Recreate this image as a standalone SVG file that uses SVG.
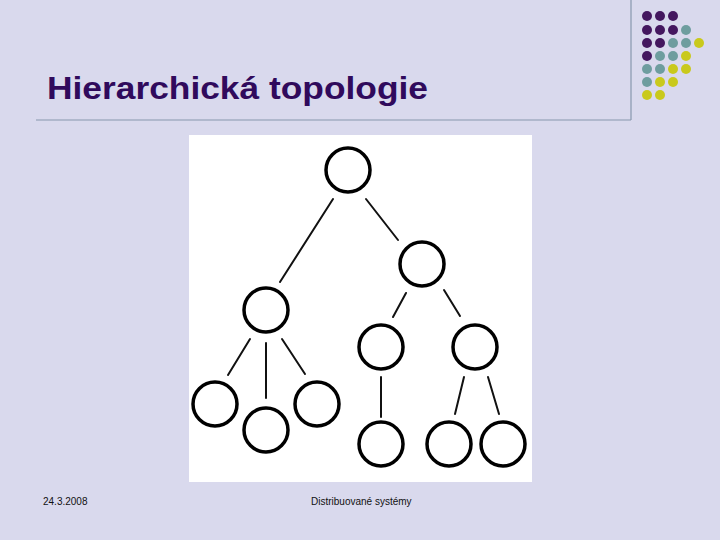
<svg xmlns="http://www.w3.org/2000/svg" width="720" height="540" viewBox="0 0 720 540">
<style>
.bg{fill:#d9d9ed}
.rule{stroke:#8797ad;stroke-width:1.2;fill:none}
.p{fill:#44175f}.t{fill:#6e9d9f}.y{fill:#c9c91c}
.node{fill:#ffffff;stroke:#000;stroke-width:3.5}
.edge{stroke:#111;stroke-width:2;stroke-linecap:round}
.title{font-family:"Liberation Sans",Arial,sans-serif;font-weight:bold;font-size:32px;fill:#300a5c}
.foot{font-family:"Liberation Sans",Arial,sans-serif;font-size:10px;fill:#111}
</style>
<rect class="bg" x="0" y="0" width="720" height="540"/>
<line class="rule" x1="631" y1="0" x2="631" y2="120"/>
<line class="rule" x1="36" y1="120" x2="631" y2="120"/>
<g id="dots">
<circle class="p" cx="647" cy="16" r="5"/><circle class="p" cx="660" cy="16" r="5"/><circle class="p" cx="673" cy="16" r="5"/>
<circle class="p" cx="647" cy="30" r="5"/><circle class="p" cx="660" cy="30" r="5"/><circle class="p" cx="673" cy="30" r="5"/><circle class="t" cx="686" cy="30" r="5"/>
<circle class="p" cx="647" cy="43" r="5"/><circle class="p" cx="660" cy="43" r="5"/><circle class="t" cx="673" cy="43" r="5"/><circle class="t" cx="686" cy="43" r="5"/><circle class="y" cx="699" cy="43" r="5"/>
<circle class="p" cx="647" cy="56" r="5"/><circle class="t" cx="660" cy="56" r="5"/><circle class="t" cx="673" cy="56" r="5"/><circle class="y" cx="686" cy="56" r="5"/>
<circle class="t" cx="647" cy="69" r="5"/><circle class="t" cx="660" cy="69" r="5"/><circle class="y" cx="673" cy="69" r="5"/><circle class="y" cx="686" cy="69" r="5"/>
<circle class="t" cx="647" cy="82" r="5"/><circle class="y" cx="660" cy="82" r="5"/><circle class="y" cx="673" cy="82" r="5"/>
<circle class="y" cx="647" cy="95" r="5"/><circle class="y" cx="660" cy="95" r="5"/>
</g>
<text class="title" x="47" y="99" textLength="381" lengthAdjust="spacingAndGlyphs">Hierarchická topologie</text>
<rect x="189" y="135" width="343" height="347" fill="#ffffff"/>
<g id="connectors">
<line class="edge" x1="333" y1="199" x2="280" y2="282"/>
<line class="edge" x1="366" y1="199" x2="398" y2="240"/>
<line class="edge" x1="406" y1="293" x2="393" y2="317"/>
<line class="edge" x1="444" y1="290" x2="460" y2="316"/>
<line class="edge" x1="250" y1="339" x2="228" y2="375"/>
<line class="edge" x1="266" y1="343" x2="266" y2="398"/>
<line class="edge" x1="282" y1="339" x2="305" y2="374"/>
<line class="edge" x1="381" y1="377" x2="381" y2="417"/>
<line class="edge" x1="464" y1="377" x2="455" y2="414"/>
<line class="edge" x1="488" y1="377" x2="499" y2="414"/>
</g>
<g id="root"><circle class="node" cx="348" cy="170" r="22"/></g>
<g id="n-right"><circle class="node" cx="422" cy="264" r="22"/></g>
<g id="n-left"><circle class="node" cx="266" cy="310" r="22"/></g>
<g id="leaf-l1"><circle class="node" cx="215" cy="404" r="22"/></g>
<g id="leaf-l2"><circle class="node" cx="266" cy="430" r="22"/></g>
<g id="leaf-l3"><circle class="node" cx="317" cy="404" r="22"/></g>
<g id="n-ra"><circle class="node" cx="381" cy="347" r="22"/></g>
<g id="n-rb"><circle class="node" cx="475" cy="347" r="22"/></g>
<g id="leaf-ra"><circle class="node" cx="381" cy="444" r="22"/></g>
<g id="leaf-rb1"><circle class="node" cx="449" cy="444" r="22"/></g>
<g id="leaf-rb2"><circle class="node" cx="503" cy="444" r="22"/></g>
<text class="foot" x="43" y="505">24.3.2008</text>
<text class="foot" x="311" y="505">Distribuované systémy</text>
</svg>
